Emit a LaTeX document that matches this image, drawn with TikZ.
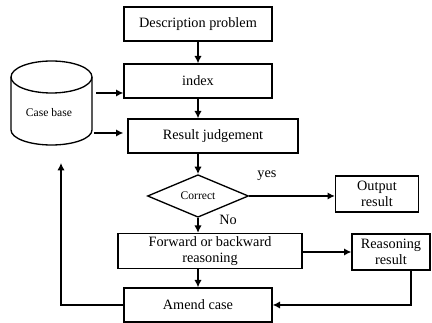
\documentclass[tikz,border=0pt]{standalone}
\usepackage{fontspec}
\setmainfont{Liberation Serif}
\usepackage{tikz}
\usetikzlibrary{arrows.meta}
\usetikzlibrary{shapes.geometric}
\tikzset{box/.style = {draw, rectangle, line width = 1pt, inner sep = 0,
                       align = center, font = \fontsize{10.7}{12.5}\selectfont}}
\tikzset{flow/.style = {line width = 1pt, -{Latex[length = 5.5pt, width = 5.5pt]}}}
\tikzset{lbl/.style = {font = \fontsize{10.7}{12.5}\selectfont}}

\begin{document}
\begin{tikzpicture}[x = 0.75pt, y = -0.75pt]
      \useasboundingbox (0, 0) rectangle (432, 323);

      \node [box, minimum width = 111pt, minimum height = 25.5pt] (desc) at (198, 24) {Description problem};
      \node [box, minimum width = 111pt, minimum height = 25.5pt] (index) at (198, 81) {index};
      \node [box, minimum width = 127.5pt, minimum height = 25.5pt] (judge) at (213, 136) {Result judgement};
      \node [box, diamond, minimum width = 75.75pt, minimum height = 27.75pt,
             font = \fontsize{8.7}{10}\selectfont] (correct) at (198, 196) {Correct};
      \node [box, minimum width = 62.25pt, minimum height = 27pt] (output) at (377, 194) {Output\\result};
      \node [box, minimum width = 138pt, minimum height = 26.25pt] (forward) at (210, 251) {Forward or backward\\reasoning};
      \node [box, minimum width = 58.5pt, minimum height = 27pt] (reason) at (391, 252) {Reasoning\\result};
      \node [box, minimum width = 111pt, minimum height = 25.5pt] (amend) at (198, 305) {Amend case};

      % case base cylinder
      \draw [line width = 1pt] (51.5, 77) ellipse [x radius = 40.5, y radius = 16];
      \draw [line width = 1pt] (11, 77) -- (11, 130) arc [start angle = 180, end angle = 0,
            x radius = 40.5, y radius = 15] -- (92, 77);
      \node [font = \fontsize{8.7}{10}\selectfont] (base) at (49, 113) {Case base};

      \coordinate (c1) at (96, 93);
      \coordinate (c2) at (94, 133);
      \coordinate (up) at (61, 163);

      \draw [flow] (desc) -- (index);
      \draw [flow] (index.south) -- (index.south |- judge.north);
      \draw [flow] (correct.north |- judge.south) -- (correct.north);
      \draw [flow] (correct.east) -- (correct.east -| output.west);
      \draw [flow] (correct.south) -- (correct.south |- forward.north);
      \draw [flow] (forward.east |- reason.west) -- (reason.west);
      \draw [flow] (amend.north |- forward.south) -- (amend.north);
      \draw [flow] ([xshift = 15pt]reason.south) |- (amend.east);
      \draw [flow] (amend.west) -| (up);
      \draw [flow] (c1) -- (c1 -| index.west);
      \draw [flow] (c2) -- ([xshift = -3pt]c2 -| judge.west);

      \node [lbl] (yes) at (267, 176) {yes};
      \node [lbl] (no) at (228, 220) {No};
    \end{tikzpicture}
\end{document}
